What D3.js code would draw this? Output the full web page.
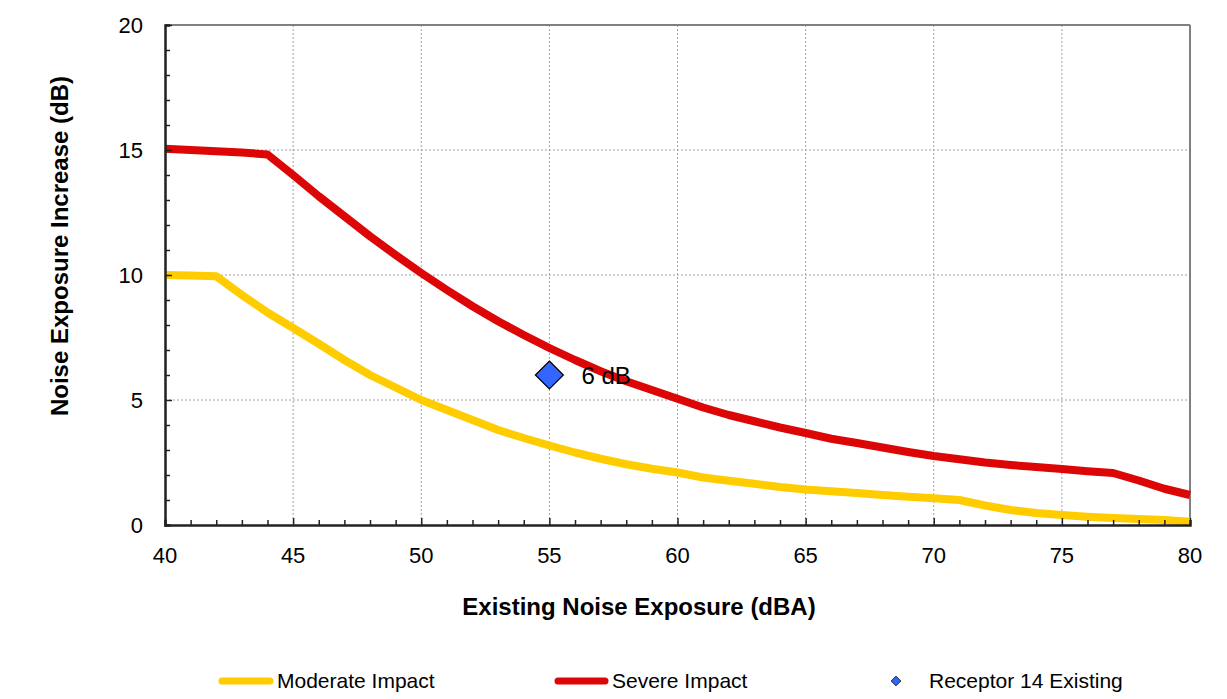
<!DOCTYPE html>
<html>
<head>
<meta charset="utf-8">
<script src="https://cdn.jsdelivr.net/npm/d3@7"></script>
<style>
  html, body { margin: 0; padding: 0; background: #fff; }
  svg { display: block; font-family: "Liberation Sans", Arial, sans-serif; }
</style>
</head>
<body>
<svg id="chart" width="1227" height="699"></svg>
<script>
// Existing noise exposure (dBA), one point per integer level
const exposure = d3.range(40, 81);

// Allowable increase thresholds (dB)
const moderateImpact = [
  10.0, 9.98, 9.95, 9.2, 8.5, 7.88, 7.25, 6.6, 6.0, 5.5,
  5.0, 4.6, 4.2, 3.8, 3.48, 3.18, 2.9, 2.65, 2.43, 2.25,
  2.1, 1.9, 1.77, 1.65, 1.52, 1.42, 1.35, 1.28, 1.2, 1.13,
  1.07, 1.0, 0.78, 0.6, 0.48, 0.4, 0.33, 0.28, 0.24, 0.2, 0.13
];
const severeImpact = [
  15.05, 15.0, 14.95, 14.9, 14.82, 14.0, 13.15, 12.35, 11.55, 10.8,
  10.08, 9.4, 8.75, 8.15, 7.6, 7.08, 6.6, 6.15, 5.75, 5.4,
  5.05, 4.7, 4.4, 4.15, 3.9, 3.68, 3.45, 3.28, 3.1, 2.92,
  2.76, 2.63, 2.5, 2.4, 2.32, 2.24, 2.15, 2.08, 1.78, 1.45, 1.2
];

// Receptor point
const receptorExposure = [55];
const receptorIncrease = [6];
const receptorLabels = ["6 dB"];

const xTicks = [40, 45, 50, 55, 60, 65, 70, 75, 80];
const yTicks = [0, 5, 10, 15, 20];

const svg = d3.select("#chart");
const plot = { left: 165, right: 1190, top: 25, bottom: 525 };

const x = d3.scaleLinear().domain([40, 80]).range([plot.left, plot.right]);
const y = d3.scaleLinear().domain([0, 20]).range([plot.bottom, plot.top]);

// Grid
const grid = svg.append("g");
grid.selectAll("line.gx").data(xTicks.slice(1, -1)).join("line")
  .attr("x1", d => x(d)).attr("x2", d => x(d))
  .attr("y1", plot.top).attr("y2", plot.bottom)
  .attr("stroke", "#a0a0a0").attr("stroke-width", 1).attr("stroke-dasharray", "2,2");
grid.selectAll("line.gy").data(yTicks.slice(1, -1)).join("line")
  .attr("y1", d => y(d)).attr("y2", d => y(d))
  .attr("x1", plot.left).attr("x2", plot.right)
  .attr("stroke", "#a0a0a0").attr("stroke-width", 1).attr("stroke-dasharray", "2,2");

// Top and right frame
svg.append("line").attr("x1", plot.left).attr("x2", plot.right).attr("y1", plot.top).attr("y2", plot.top)
  .attr("stroke", "#808080").attr("stroke-width", 2);
svg.append("line").attr("x1", plot.right).attr("x2", plot.right).attr("y1", plot.top).attr("y2", plot.bottom)
  .attr("stroke", "#808080").attr("stroke-width", 2);

// Series lines
const line = (vals) => d3.line()
  .x((d, i) => x(exposure[i]))
  .y(d => y(d))(vals);

svg.append("path").attr("d", line(moderateImpact))
  .attr("fill", "none").attr("stroke", "#ffcc00").attr("stroke-width", 8)
  .attr("stroke-linejoin", "round");
svg.append("path").attr("d", line(severeImpact))
  .attr("fill", "none").attr("stroke", "#dd0606").attr("stroke-width", 8)
  .attr("stroke-linejoin", "round");

// Axes (ticks inside the plot)
const xAxis = d3.axisBottom(x).tickValues(d3.range(40, 81)).tickSize(-5).tickFormat("");
const gx = svg.append("g").attr("transform", `translate(0,${plot.bottom})`).call(xAxis);
gx.select(".domain").attr("stroke", "#222").attr("stroke-width", 2.5);
gx.selectAll(".tick line").attr("stroke", "#222").attr("stroke-width", 1.5)
  .attr("y2", d => d % 5 === 0 ? -7 : -5);

const yAxis = d3.axisLeft(y).tickValues(d3.range(0, 21)).tickSize(-5).tickFormat("");
const gy = svg.append("g").attr("transform", `translate(${plot.left},0)`).call(yAxis);
gy.select(".domain").attr("stroke", "#222").attr("stroke-width", 2.5);
gy.selectAll(".tick line").attr("stroke", "#222").attr("stroke-width", 1.5)
  .attr("x2", d => d % 5 === 0 ? 7 : 5);

// Tick labels
svg.append("g").selectAll("text").data(xTicks).join("text")
  .attr("x", d => x(d)).attr("y", 563)
  .attr("text-anchor", "middle").attr("font-size", 22).attr("fill", "#000")
  .text(d => d);
svg.append("g").selectAll("text").data(yTicks).join("text")
  .attr("x", 143).attr("y", d => y(d) + 8)
  .attr("text-anchor", "end").attr("font-size", 22).attr("fill", "#000")
  .text(d => d);

// Axis titles
svg.append("text").attr("x", 639).attr("y", 615)
  .attr("text-anchor", "middle").attr("font-size", 24).attr("font-weight", "bold")
  .text("Existing Noise Exposure (dBA)");
svg.append("text").attr("transform", "translate(68,246) rotate(-90)")
  .attr("text-anchor", "middle").attr("font-size", 24).attr("font-weight", "bold")
  .text("Noise Exposure Increase (dB)");

// Receptor marker and label
const diamond = d3.symbol().type(d3.symbolDiamond2).size(500);
svg.append("g").selectAll("path").data(receptorExposure).join("path")
  .attr("d", diamond)
  .attr("transform", (d, i) => `translate(${x(d)},${y(receptorIncrease[i])})`)
  .attr("fill", "#3366ff").attr("stroke", "#000").attr("stroke-width", 1.2);
svg.append("g").selectAll("text").data(receptorExposure).join("text")
  .attr("x", (d) => x(d) + 32).attr("y", (d, i) => y(receptorIncrease[i]) + 9)
  .attr("font-size", 24).attr("fill", "#000")
  .text((d, i) => receptorLabels[i]);

// Legend
const legend = svg.append("g");
legend.append("line").attr("x1", 222).attr("x2", 270).attr("y1", 681).attr("y2", 681)
  .attr("stroke", "#ffcc00").attr("stroke-width", 7).attr("stroke-linecap", "round");
legend.append("text").attr("x", 277).attr("y", 688).attr("font-size", 21).text("Moderate Impact");
legend.append("line").attr("x1", 558).attr("x2", 605).attr("y1", 681).attr("y2", 681)
  .attr("stroke", "#dd0606").attr("stroke-width", 7).attr("stroke-linecap", "round");
legend.append("text").attr("x", 612).attr("y", 688).attr("font-size", 21).text("Severe Impact");
legend.append("path").attr("d", d3.symbol().type(d3.symbolDiamond2).size(60))
  .attr("transform", "translate(896,681)")
  .attr("fill", "#3366ff").attr("stroke", "#000").attr("stroke-width", 0.8);
legend.append("text").attr("x", 929).attr("y", 688).attr("font-size", 21).text("Receptor 14 Existing");
</script>
</body>
</html>
